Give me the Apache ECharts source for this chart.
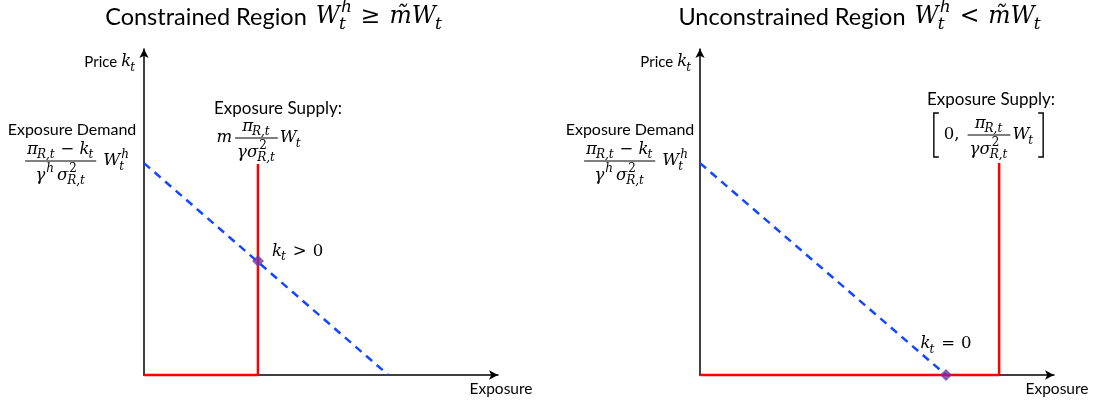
<!DOCTYPE html>
<html><head><meta charset="utf-8">
<script src="https://cdn.jsdelivr.net/npm/echarts@6/dist/echarts.min.js"></script>
<style>html,body{margin:0;padding:0;background:#fff}#c{width:1097px;height:402px}</style>
</head><body><div id="c"></div>
<script>
// ---------- data ----------
const panelTitles = ['Constrained Region', 'Unconstrained Region'];
const panelRelations = ['≥', '<'];
const axisNames = ['Price', 'Exposure'];
const demandLabel = 'Exposure Demand';
const supplyLabel = 'Exposure Supply:';
const equilibriumLabels = ['>', '='];
const constrainedDemand = [[0, 6.5], [6.9, 0]];
const constrainedSupply = [[0, 0], [3.22, 0], [3.22, 6.47]];
const constrainedEquilibrium = [[3.22, 3.5]];
const unconstrainedDemand = [[0, 6.5], [6.95, 0]];
const unconstrainedSupply = [[0, 0], [8.45, 0], [8.45, 6.5]];
const unconstrainedEquilibrium = [[6.95, 0]];

// ---------- small math layout helper ----------
const SANS = 'Lato, "Open Sans", sans-serif';
const SERIF = '"DejaVu Serif", serif';
const FONTS = { n: [SANS, 'normal'], i: [SERIF, 'italic'], r: [SERIF, 'normal'] };
const mctx = document.createElement('canvas').getContext('2d');
function tw(text, f, size) { mctx.font = FONTS[f][1] + ' normal ' + size + 'px ' + FONTS[f][0]; return mctx.measureText(text).width; }

function row(tokens, size, nsize) {
  let x = 0; const texts = [], segs = [];
  for (const tk of tokens) {
    if (typeof tk === 'number') { x += tk; continue; }
    if (tk.frac) {
      const num = row(tk.frac[0], size), den = row(tk.frac[1], size);
      const w = Math.max(num.w, den.w) + 4;
      const add = (r, dy) => {
        const ox = x + (w - r.w) / 2;
        r.texts.forEach(t => texts.push(Object.assign({}, t, { dx: t.dx + ox, dy: t.dy + dy })));
        r.segs.forEach(s => segs.push({ pts: s.pts.map(p => [p[0] + ox, p[1] + dy]), lw: s.lw }));
      };
      add(num, -size * 0.7); add(den, size * 0.9);
      segs.push({ pts: [[x, 0], [x + w, 0]], lw: 1 });
      x += w; continue;
    }
    if (tk.br) {
      const h = tk.h, bw = 5;
      if (tk.br === '[') segs.push({ pts: [[x + bw, -h / 2], [x, -h / 2], [x, h / 2], [x + bw, h / 2]], lw: 1.4 });
      else segs.push({ pts: [[x, -h / 2], [x + bw, -h / 2], [x + bw, h / 2], [x, h / 2]], lw: 1.4 });
      x += bw + 1; continue;
    }
    const f = tk.f || 'i';
    const s = f === 'n' ? (nsize || size) : size;
    texts.push({ text: tk.t, f: f, size: s, dx: x, dy: 0 });
    const w = tw(tk.t, f, s);
    let extra = 0;
    const ss = Math.round(s * 0.72);
    if (tk.sup) { const sf = tk.supf || 'i'; texts.push({ text: tk.sup, f: sf, size: ss, dx: x + w + 1, dy: -s * 0.4 }); extra = Math.max(extra, tw(tk.sup, sf, ss) + 1); }
    if (tk.sub) { const bf = tk.subf || 'i'; texts.push({ text: tk.sub, f: bf, size: ss, dx: x + w - (f === 'i' ? 1 : 0), dy: s * 0.33 }); extra = Math.max(extra, tw(tk.sub, bf, ss)); }
    x += w + extra;
  }
  return { w: x, texts: texts, segs: segs };
}

function place(r, cx, cy, align) {
  const x0 = align === 'left' ? cx : align === 'right' ? cx - r.w : cx - r.w / 2;
  const els = r.texts.map(t => ({ type: 'text', silent: true, x: x0 + t.dx, y: cy + t.dy,
    style: { text: t.text, fontFamily: FONTS[t.f][0], fontStyle: FONTS[t.f][1], fontSize: t.size, fill: '#000', align: 'left', verticalAlign: 'middle' } }));
  r.segs.forEach(s => els.push({ type: 'polyline', silent: true, shape: { points: s.pts.map(p => [x0 + p[0], cy + p[1]]) }, style: { stroke: '#000', lineWidth: s.lw || 1, fill: null } }));
  return els;
}
function plain(text, x, y, size) {
  return { type: 'text', silent: true, x: x, y: y, style: { text: text, fontFamily: SANS, fontSize: size, fill: '#000', align: 'center', verticalAlign: 'middle' } };
}

const M = 16.5; // math size
const demandRow = () => row([{ frac: [[{ t: 'π', sub: 'R,t' }, 5, { t: '−', f: 'r' }, 5, { t: 'k', sub: 't' }],
  [{ t: 'γ', sup: 'h' }, 3, { t: 'σ', sub: 'R,t', sup: '2', supf: 'r' }]] }, 7, { t: 'W', sub: 't', sup: 'h' }], M);
const fracPi = () => ({ frac: [[{ t: 'π', sub: 'R,t' }], [{ t: 'γ' }, { t: 'σ', sub: 'R,t', sup: '2', supf: 'r' }]] });

let graphics = [];
// titles
const titleCx = [274, 860];
[0, 1].forEach(i => {
  graphics = graphics.concat(place(row([{ t: panelTitles[i], f: 'n' }, 9, { t: 'W', sub: 't', sup: 'h' }, 9, { t: panelRelations[i], f: 'r' }, 9, { t: 'm\u0303' }, { t: 'W', sub: 't' }], 23.5, 23.5), titleCx[i], 17));
});
// price labels
[[136, 62], [692, 62]].forEach(p => {
  graphics = graphics.concat(place(row([{ t: axisNames[0], f: 'n' }, 4, { t: 'k', sub: 't' }], M, 15), p[0], p[1], 'right'));
});
// demand labels
[[72, 130, 77], [630, 130, 636]].forEach(p => {
  graphics.push(plain(demandLabel, p[0], p[1], 16));
  graphics = graphics.concat(place(demandRow(), p[2], 161));
});
// supply labels
graphics.push(plain(supplyLabel, 278, 109, 17));
graphics = graphics.concat(place(row([{ t: 'm' }, 3, fracPi(), 2, { t: 'W', sub: 't' }], M), 259, 138));
graphics.push(plain(supplyLabel, 991, 100, 17));
graphics = graphics.concat(place(row([{ br: '[', h: 44 }, 4, { t: '0,', f: 'r' }, 8, fracPi(), 2, { t: 'W', sub: 't' }, 4, { br: ']', h: 44 }], M), 989, 135));

// ---------- chart ----------
const chart = echarts.init(document.getElementById('c'), null, { renderer: 'canvas' });
const axisLine = { show: true, onZero: false, symbol: ['none', 'arrow'], symbolSize: [7, 9], lineStyle: { color: '#000', width: 1.5 } };
const grids = [{ left: 144, top: 49, width: 354, height: 326 }, { left: 700, top: 49, width: 354, height: 326 }];
const blue = '#1447ff', red = '#ff0000', purple = '#7030a0';
function lineSeries(i, data, color, dashed) {
  return { type: 'line', xAxisIndex: i, yAxisIndex: i, data: data, symbol: 'none', clip: false, z: dashed ? 3 : 4,
    lineStyle: { color: color, width: 2.5, type: dashed ? [8, 6] : 'solid' } };
}
function eqSeries(i, data) {
  return { type: 'scatter', xAxisIndex: i, yAxisIndex: i, data: data, symbol: 'diamond', symbolSize: 12, clip: false, z: 6, itemStyle: { color: purple } };
}
chart.setOption({
  animation: false,
  backgroundColor: '#fff',
  grid: grids,
  xAxis: [0, 1].map(i => ({ gridIndex: i, type: 'value', min: 0, max: 10, axisLine: axisLine, axisTick: { show: false }, axisLabel: { show: false }, splitLine: { show: false },
    name: axisNames[1], nameLocation: 'end', nameGap: 3, nameTextStyle: { fontFamily: SANS, fontSize: 15.5, color: '#000', align: 'center', verticalAlign: 'top', padding: [6, 0, 0, 0] } })),
  yAxis: [0, 1].map(i => ({ gridIndex: i, type: 'value', min: 0, max: 10, axisLine: axisLine, axisTick: { show: false }, axisLabel: { show: false }, splitLine: { show: false } })),
  series: [
    lineSeries(0, constrainedDemand, blue, true), lineSeries(0, constrainedSupply, red, false), eqSeries(0, constrainedEquilibrium),
    lineSeries(1, unconstrainedDemand, blue, true), lineSeries(1, unconstrainedSupply, red, false), eqSeries(1, unconstrainedEquilibrium)
  ]
});
// equilibrium annotations anchored at the points
const p0 = chart.convertToPixel({ gridIndex: 0 }, constrainedEquilibrium[0]);
const p1 = chart.convertToPixel({ gridIndex: 1 }, unconstrainedEquilibrium[0]);
graphics = graphics.concat(place(row([{ t: 'k', sub: 't' }, 6, { t: equilibriumLabels[0], f: 'r' }, 6, { t: '0', f: 'r' }], M), p0[0] + 14, p0[1] - 9, 'left'));
graphics = graphics.concat(place(row([{ t: 'k', sub: 't' }, 6, { t: equilibriumLabels[1], f: 'r' }, 6, { t: '0', f: 'r' }], M), p1[0], p1[1] - 31));
chart.setOption({ graphic: graphics });
</script></body></html>
